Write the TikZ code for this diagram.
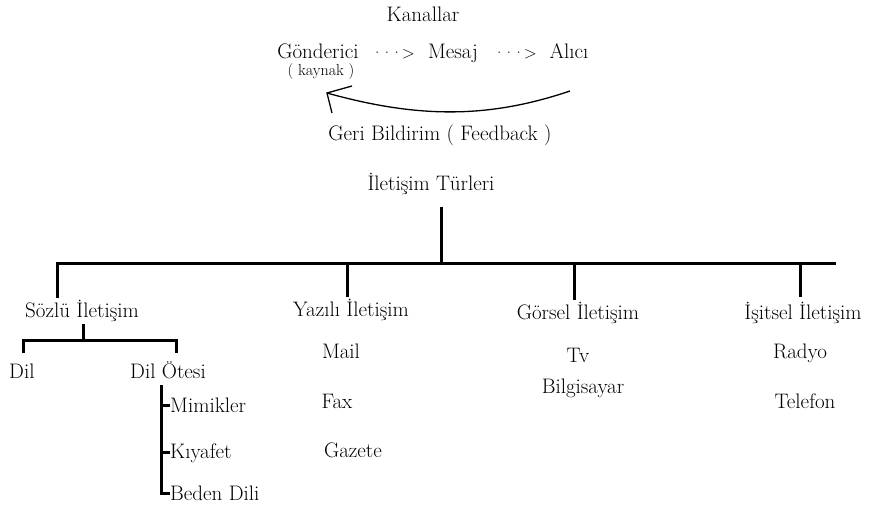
\documentclass[tikz,border=0pt]{standalone}
\usetikzlibrary{positioning}
\tikzset{
  lbl/.style={inner sep=0pt, anchor=base, font=\fontsize{21}{25}\selectfont},
  lblw/.style={lbl, anchor=base west},
  lblsmall/.style={lbl, font=\fontsize{16}{19}\selectfont},
  lbldots/.style={lbl, font=\fontsize{17}{20}\selectfont},
  tree/.style={line width=3pt},
  fb/.style={line width=1.3pt},
}
\newcommand{\dotsarrow}{·\kern-2.5pt·\kern-2.5pt·\kern-1pt>}
\begin{document}
\begin{tikzpicture}[x=1pt,y=-1pt]
\useasboundingbox (0,0) rectangle (871,504);
% kanallar
\node[lbl](kanal) at (423,21) {Kanallar};
\node[lbl](gond) at (318,58) {Gönderici};
\node[lblsmall](kaynak) at (321,75) {( kaynak )};
\node[lbldots](ok1) at (393,58) {\dotsarrow};
\node[lbl](mesaj) at (453,58) {Mesaj};
\node[lbldots](ok2) at (515,58) {\dotsarrow};
\node[lbl](alici) at (569,58) {Alıcı};
\node[lbl](geri) at (440,140) {Geri Bildirim ( Feedback )};
\coordinate (fbR) at (570,91);
\coordinate (fbL) at (327,93);
\draw[fb] (fbR) .. controls (490,118) and (420,119) .. (fbL);
\draw[fb] (352,86) -- (fbL) -- (332,113);
% turler
\node[lbl](turler) at (431,190) {İletişim Türleri};
\coordinate (turlerB) at (441,207);
\coordinate (busT) at (441,263);
\coordinate (busL) at (57,263);
\coordinate (busR) at (836,263);
\node[lbl](sozlu) at (82,317) {Sözlü İletişim};
\node[lbl](yazili) at (351,316) {Yazılı İletişim};
\node[lbl](gorsel) at (578,319) {Görsel İletişim};
\node[lbl](isitsel) at (803,319) {İşitsel İletişim};
\draw[tree] (turlerB) -- (busT);
\draw[tree] (57,298) -- (busL) -- (busR);
\draw[tree] (347,263) -- (347,297);
\draw[tree] (574,263) -- (574,300);
\draw[tree] (800,263) -- (800,297);
% sozlu
\node[lblw](dil) at (9,378) {Dil};
\node[lblw](dilotesi) at (130,378) {Dil Ötesi};
\draw[tree] (83,324) -- (83,340);
\draw[tree] (23,353) -- (23,340) -- (176,340) -- (176,353);
\node[lblw](mimik) at (170,412) {Mimikler};
\node[lblw](kiyafet) at (170,458) {Kıyafet};
\node[lblw](beden) at (170,500) {Beden Dili};
\draw[tree] (161,385) -- (161,493) -- (beden.west |- 0,493);
\draw[tree] (161,405) -- (mimik.west |- 0,405);
\draw[tree] (161,452) -- (kiyafet.west |- 0,452);
% yazili, gorsel, isitsel
\node[lbl](mail) at (341,358) {Mail};
\node[lbl](fax) at (337,408) {Fax};
\node[lbl](gazete) at (353,457) {Gazete};
\node[lbl](tv) at (578,362) {Tv};
\node[lbl](bilg) at (583,393) {Bilgisayar};
\node[lbl](radyo) at (800,358) {Radyo};
\node[lbl](telefon) at (805,408) {Telefon};
\end{tikzpicture}
\end{document}
